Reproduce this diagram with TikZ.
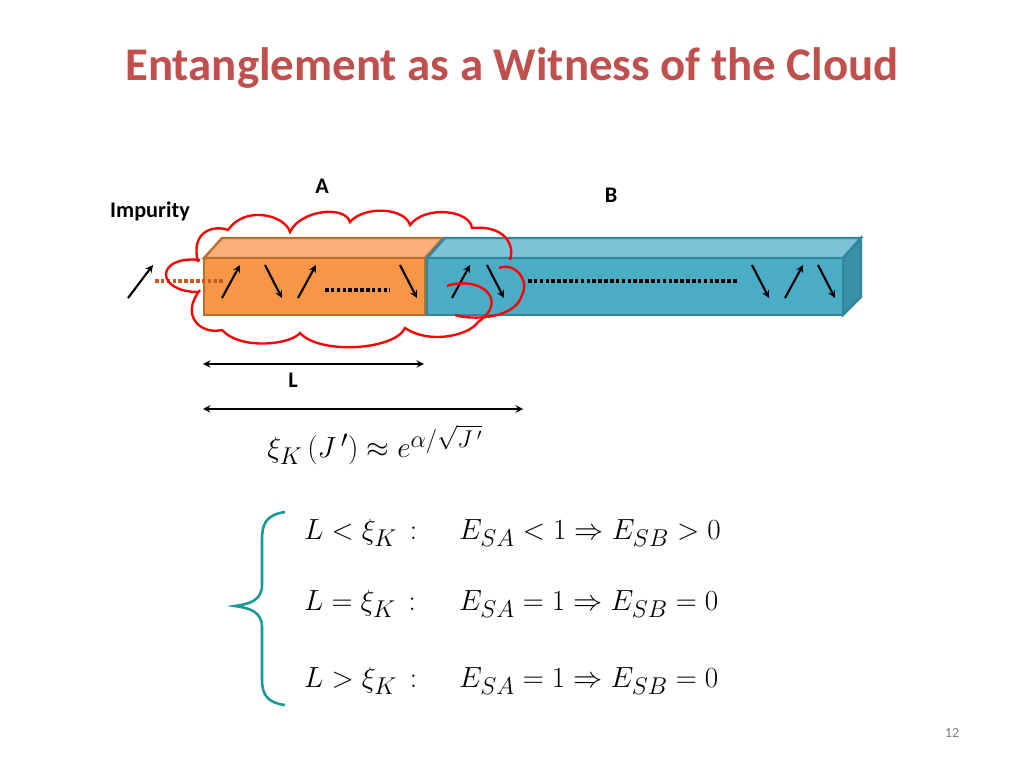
\documentclass[tikz,border=0pt]{standalone}
\usepackage{amsmath}
\usepackage{fontspec}
\setmainfont{Carlito}
\usepackage{tikz}
\usetikzlibrary{positioning,arrows}
\definecolor{titlered}{HTML}{C0504D}
\definecolor{orfront}{HTML}{F79646}
\definecolor{ortop}{HTML}{FAB07A}
\definecolor{orline}{HTML}{B7702F}
\definecolor{blfront}{HTML}{4BACC6}
\definecolor{bltop}{HTML}{7CC3D7}
\definecolor{blside}{HTML}{3A8FA8}
\definecolor{blline}{HTML}{31859C}
\definecolor{braceteal}{HTML}{1A9A96}
\tikzstyle{spin} = [line width=1.8pt,->,>=stealth]
\tikzstyle{label} = [font=\fontsize{19}{22}\selectfont\bfseries]
\tikzstyle{eqn} = [anchor=west, font=\fontsize{30}{34}\selectfont]

\begin{document}
\begin{tikzpicture}[x=0.03cm, y=-0.03cm,
    orface/.style={fill=orfront, draw=orline, line width=2pt},
    blface/.style={fill=blfront, draw=blline, line width=2pt},
    span/.style={line width=1.8pt,<->,>=stealth},
    cloud/.style={red, line width=2pt}
    ]
  \useasboundingbox (0,0) rectangle (1024,768);
  \node[font=\fontsize{40}{46}\selectfont\bfseries, text=titlered] (title) at (512,68) {Entanglement as a Witness of the Cloud};
  % the two bars
  \draw[fill=ortop, draw=orline, line width=2pt] (204,258) -- (222,238) -- (443,238) -- (425,258) -- cycle;
  \draw[orface] (204,258) rectangle (425,315);
  \draw[fill=bltop, draw=blline, line width=2pt] (427,258) -- (445,238) -- (861,238) -- (843,258) -- cycle;
  \draw[fill=blside, draw=blline, line width=2pt] (843,258) -- (861,238) -- (861,297) -- (843,315) -- cycle;
  \draw[blface] (427,258) rectangle (843,315);
  % spins
  \draw[spin] (128,298) -- (153,265);
  \draw[dotted, line width=3pt, draw=orline!80!red] (155,281) -- (225,281);
  \foreach \x in {222,298,452,785} \draw[spin] (\x,298) -- (\x+18,265);
  \foreach \x in {265,400,487,752,818} \draw[spin] (\x,265) -- (\x+17,298);
  \draw[dotted, line width=3pt] (325,290) -- (390,290);
  \draw[dotted, line width=3pt] (528,281) -- (738,281);
  % the cloud
  \draw[cloud] (198,262) .. controls (190,230) and (215,225) .. (228,230)
    .. controls (245,205) and (285,215) .. (290,232)
    .. controls (300,210) and (345,205) .. (350,222)
    .. controls (365,205) and (405,208) .. (410,225)
    .. controls (425,205) and (470,210) .. (472,228)
    .. controls (505,225) and (515,245) .. (510,260);
  \draw[cloud] (499,268) .. controls (515,262) and (530,280) .. (522,295)
    .. controls (515,320) and (470,320) .. (455,315);
  \draw[cloud] (447,286) .. controls (480,275) and (510,300) .. (478,322);
  \draw[cloud] (200,260) .. controls (155,255) and (155,292) .. (198,292);
  \draw[cloud] (200,290) .. controls (180,315) and (200,335) .. (222,330)
    .. controls (240,350) and (290,345) .. (300,333)
    .. controls (320,355) and (395,350) .. (405,328)
    .. controls (430,345) and (470,335) .. (478,322);
  % labels
  \node[label] (A) at (322,186) {A};
  \node[label] (B) at (611,195) {B};
  \node[label] (imp) at (150,211) {Impurity};
  \coordinate (Ls) at (203,364); \coordinate (Le) at (424,364);
  \coordinate (Xs) at (203,409); \coordinate (Xe) at (523,409);
  \draw[span] (Ls) -- (Le);
  \node[label] (L) at (293,380) {L};
  \draw[span] (Xs) -- (Xe);
  \node[font=\fontsize{30}{34}\selectfont] (xi) at (375,445) {$\xi_K\,(J\,')\approx e^{\alpha/\sqrt{J\,'}}$};
  % cases
  \draw[braceteal, line width=2.2pt] (285,512) .. controls (265,515) and (262,525) .. (262,540)
    -- (262,585) .. controls (262,600) and (250,604) .. (235,606)
    .. controls (250,608) and (262,612) .. (262,627) -- (262,680)
    .. controls (262,695) and (268,703) .. (285,705);
  \node[eqn] (c1) at (300,533) {$L<\xi_K\,:$};
  \node[eqn] (d1) at (455,533) {$E_{SA}<1\Rightarrow E_{SB}>0$};
  \node[eqn] (c2) at (300,604) {$L=\xi_K\,:$};
  \node[eqn] (d2) at (455,604) {$E_{SA}=1\Rightarrow E_{SB}=0$};
  \node[eqn] (c3) at (300,681) {$L>\xi_K\,:$};
  \node[eqn] (d3) at (455,681) {$E_{SA}=1\Rightarrow E_{SB}=0$};
  \node[text=gray, font=\fontsize{12}{14}\selectfont] (page) at (952,733) {12};
\end{tikzpicture}
\end{document}
